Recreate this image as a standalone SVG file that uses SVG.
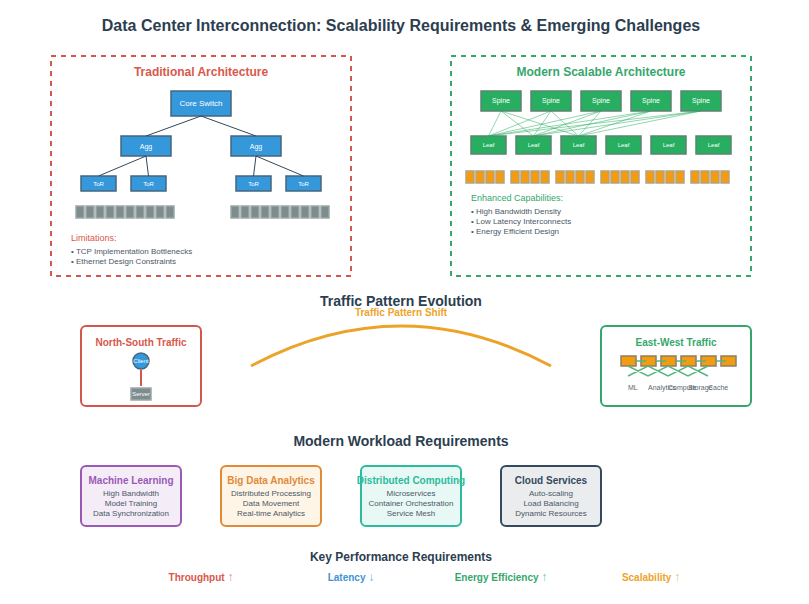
<svg xmlns="http://www.w3.org/2000/svg" width="809" height="604" viewBox="0 0 809 604">
<defs>
<style>
text{font-family:"Liberation Sans",Arial,sans-serif;text-anchor:middle}
.h1{font-size:16px;font-weight:bold;fill:#2c3e50}
.h2{font-size:14px;font-weight:bold;fill:#2c3e50}
.h3{font-size:12px;font-weight:bold}
.h4{font-size:10px;font-weight:bold}
.red{fill:#d9574b}.grn{fill:#35a76c}.org{fill:#eda32a}.blu{fill:#3f92d2}
.st{font-size:9px;text-anchor:start}
.bl{font-size:8px;text-anchor:start;fill:#4a5866}
.sw{fill:#3498db;stroke:#46667f;stroke-width:1.500}
.gs{fill:#27ae60;stroke:#5b8471;stroke-width:1.500}
.wt{fill:#fff}
.s8{font-size:8px}.s7{font-size:7px}.s6{font-size:6px}
.sv{fill:#7f8c8d;stroke:#9aa8ab;stroke-width:1.500}
.or{fill:#f39c12;stroke:#b5a27e;stroke-width:1.500}
.ew-node{fill:#f39c12;stroke:#8d7f66;stroke-width:1.500}
.tree{stroke:#34485a;stroke-width:1;fill:none}
.sl{stroke:#27ae60;stroke-width:1;opacity:.5;fill:none}
.ew{stroke:#58b47f;stroke-width:1.500;fill:none}
.card{stroke-width:2}
.cd{font-size:8px;fill:#4a5866}
.ct{font-size:10px;font-weight:bold}
.kp{font-size:10px;font-weight:bold}
.ar{font-size:12px;font-weight:normal;opacity:.75}
.lb{font-size:7px;text-anchor:start;fill:#5a6773}
</style>
</defs>
<rect width="809" height="604" fill="#fff"/>
<text class="h1" x="401" y="31">Data Center Interconnection: Scalability Requirements &amp; Emerging Challenges</text>

<g id="traditional-panel">
<rect x="51" y="56" width="300" height="220" fill="none" stroke="#d4574c" stroke-width="2" stroke-dasharray="5,5"/>
<text class="h3 red" x="201" y="76">Traditional Architecture</text>
<text class="st red" x="71" y="241">Limitations:</text>
<text class="bl" x="71" y="254">• TCP Implementation Bottlenecks</text>
<text class="bl" x="71" y="264">• Ethernet Design Constraints</text>
</g>
<g id="core"><rect class="sw" x="171" y="91" width="60" height="25"/><text class="wt s8" x="201" y="106">Core Switch</text></g>
<g id="agg1"><rect class="sw" x="121" y="136" width="50" height="20"/><text class="wt s7" x="146" y="149">Agg</text></g>
<g id="agg2"><rect class="sw" x="231" y="136" width="50" height="20"/><text class="wt s7" x="256" y="149">Agg</text></g>
<g id="tor1"><rect class="sw" x="81" y="176" width="35" height="15"/><text class="wt s6" x="98.500" y="186">ToR</text></g>
<g id="tor2"><rect class="sw" x="131" y="176" width="35" height="15"/><text class="wt s6" x="148.500" y="186">ToR</text></g>
<g id="tor3"><rect class="sw" x="236" y="176" width="35" height="15"/><text class="wt s6" x="253.500" y="186">ToR</text></g>
<g id="tor4"><rect class="sw" x="286" y="176" width="35" height="15"/><text class="wt s6" x="303.500" y="186">ToR</text></g>
<g id="servers-left">
<rect class="sv" x="76" y="206" width="8" height="12"/><rect class="sv" x="86" y="206" width="8" height="12"/><rect class="sv" x="96" y="206" width="8" height="12"/><rect class="sv" x="106" y="206" width="8" height="12"/><rect class="sv" x="116" y="206" width="8" height="12"/><rect class="sv" x="126" y="206" width="8" height="12"/><rect class="sv" x="136" y="206" width="8" height="12"/><rect class="sv" x="146" y="206" width="8" height="12"/><rect class="sv" x="156" y="206" width="8" height="12"/><rect class="sv" x="166" y="206" width="8" height="12"/>
</g>
<g id="servers-right">
<rect class="sv" x="231" y="206" width="8" height="12"/><rect class="sv" x="241" y="206" width="8" height="12"/><rect class="sv" x="251" y="206" width="8" height="12"/><rect class="sv" x="261" y="206" width="8" height="12"/><rect class="sv" x="271" y="206" width="8" height="12"/><rect class="sv" x="281" y="206" width="8" height="12"/><rect class="sv" x="291" y="206" width="8" height="12"/><rect class="sv" x="301" y="206" width="8" height="12"/><rect class="sv" x="311" y="206" width="8" height="12"/><rect class="sv" x="321" y="206" width="8" height="12"/>
</g>

<g id="modern-panel">
<rect x="451" y="56" width="300" height="220" fill="none" stroke="#35a76c" stroke-width="2" stroke-dasharray="5,5"/>
<text class="h3 grn" x="601" y="76">Modern Scalable Architecture</text>
<text class="st grn" x="471" y="201">Enhanced Capabilities:</text>
<text class="bl" x="471" y="214">• High Bandwidth Density</text>
<text class="bl" x="471" y="224">• Low Latency Interconnects</text>
<text class="bl" x="471" y="234">• Energy Efficient Design</text>
</g>
<g id="spine1"><rect class="gs" x="481" y="91" width="40" height="20"/><text class="wt s7" x="501" y="103">Spine</text></g>
<g id="spine2"><rect class="gs" x="531" y="91" width="40" height="20"/><text class="wt s7" x="551" y="103">Spine</text></g>
<g id="spine3"><rect class="gs" x="581" y="91" width="40" height="20"/><text class="wt s7" x="601" y="103">Spine</text></g>
<g id="spine4"><rect class="gs" x="631" y="91" width="40" height="20"/><text class="wt s7" x="651" y="103">Spine</text></g>
<g id="spine5"><rect class="gs" x="681" y="91" width="40" height="20"/><text class="wt s7" x="701" y="103">Spine</text></g>
<g id="leaf1"><rect class="gs" x="471" y="136" width="35" height="18"/><text class="wt s6" x="488.500" y="147">Leaf</text></g>
<g id="leaf2"><rect class="gs" x="516" y="136" width="35" height="18"/><text class="wt s6" x="533.500" y="147">Leaf</text></g>
<g id="leaf3"><rect class="gs" x="561" y="136" width="35" height="18"/><text class="wt s6" x="578.500" y="147">Leaf</text></g>
<g id="leaf4"><rect class="gs" x="606" y="136" width="35" height="18"/><text class="wt s6" x="623.500" y="147">Leaf</text></g>
<g id="leaf5"><rect class="gs" x="651" y="136" width="35" height="18"/><text class="wt s6" x="668.500" y="147">Leaf</text></g>
<g id="leaf6"><rect class="gs" x="696" y="136" width="35" height="18"/><text class="wt s6" x="713.500" y="147">Leaf</text></g>
<g id="racks">
<rect class="or" x="466" y="171" width="8" height="12"/><rect class="or" x="476" y="171" width="8" height="12"/><rect class="or" x="486" y="171" width="8" height="12"/><rect class="or" x="496" y="171" width="8" height="12"/>
<rect class="or" x="511" y="171" width="8" height="12"/><rect class="or" x="521" y="171" width="8" height="12"/><rect class="or" x="531" y="171" width="8" height="12"/><rect class="or" x="541" y="171" width="8" height="12"/>
<rect class="or" x="556" y="171" width="8" height="12"/><rect class="or" x="566" y="171" width="8" height="12"/><rect class="or" x="576" y="171" width="8" height="12"/><rect class="or" x="586" y="171" width="8" height="12"/>
<rect class="or" x="601" y="171" width="8" height="12"/><rect class="or" x="611" y="171" width="8" height="12"/><rect class="or" x="621" y="171" width="8" height="12"/><rect class="or" x="631" y="171" width="8" height="12"/>
<rect class="or" x="646" y="171" width="8" height="12"/><rect class="or" x="656" y="171" width="8" height="12"/><rect class="or" x="666" y="171" width="8" height="12"/><rect class="or" x="676" y="171" width="8" height="12"/>
<rect class="or" x="691" y="171" width="8" height="12"/><rect class="or" x="701" y="171" width="8" height="12"/><rect class="or" x="711" y="171" width="8" height="12"/><rect class="or" x="721" y="171" width="8" height="12"/>
</g>

<text class="h2" x="401" y="306">Traffic Pattern Evolution</text>
<text class="org" x="401" y="316" font-size="10" font-weight="bold">Traffic Pattern Shift</text>

<g id="north-south">
<rect x="81" y="326" width="120" height="80" rx="5" fill="#fff" stroke="#d4574c" stroke-width="2"/>
<text class="h4 red" x="141" y="346">North-South Traffic</text>
<circle class="sw" cx="141" cy="361" r="8"/><text class="wt s6" x="141" y="363">Client</text>
<rect class="sv" x="131" y="388" width="20" height="12"/><text class="wt s6" x="141" y="396">Server</text>
</g>

<g id="east-west">
<rect x="601" y="326" width="150" height="80" rx="5" fill="#fff" stroke="#35a76c" stroke-width="2"/>
<text class="h4 grn" x="676" y="346">East-West Traffic</text>
<rect class="ew-node" x="621" y="356" width="15" height="10"/><rect class="ew-node" x="641" y="356" width="15" height="10"/><rect class="ew-node" x="661" y="356" width="15" height="10"/><rect class="ew-node" x="681" y="356" width="15" height="10"/><rect class="ew-node" x="701" y="356" width="15" height="10"/><rect class="ew-node" x="721" y="356" width="15" height="10"/>
<text class="lb" x="628" y="390">ML</text>
<text class="lb" x="648" y="390">Analytics</text>
<text class="lb" x="668" y="390">Compute</text>
<text class="lb" x="688" y="390">Storage</text>
<text class="lb" x="708" y="390">Cache</text>
</g>

<text class="h2" x="401" y="446">Modern Workload Requirements</text>
<g id="ml"><rect class="card" x="81" y="466" width="100" height="60" rx="5" fill="#f4ecf7" stroke="#9b59b6"/>
<text class="ct" fill="#9b59b6" x="131" y="484">Machine Learning</text><text class="cd" x="131" y="496">High Bandwidth</text><text class="cd" x="131" y="506">Model Training</text><text class="cd" x="131" y="516">Data Synchronization</text></g>
<g id="bigdata"><rect class="card" x="221" y="466" width="100" height="60" rx="5" fill="#fef5e7" stroke="#e08a3a"/>
<text class="ct" fill="#e08a3a" x="271" y="484">Big Data Analytics</text><text class="cd" x="271" y="496">Distributed Processing</text><text class="cd" x="271" y="506">Data Movement</text><text class="cd" x="271" y="516">Real-time Analytics</text></g>
<g id="distributed"><rect class="card" x="361" y="466" width="100" height="60" rx="5" fill="#e8f8f5" stroke="#2dbb9d"/>
<text class="ct" fill="#2dbb9d" x="411" y="484">Distributed Computing</text><text class="cd" x="411" y="496">Microservices</text><text class="cd" x="411" y="506">Container Orchestration</text><text class="cd" x="411" y="516">Service Mesh</text></g>
<g id="cloud"><rect class="card" x="501" y="466" width="100" height="60" rx="5" fill="#eaecee" stroke="#34495e"/>
<text class="ct" fill="#34495e" x="551" y="484">Cloud Services</text><text class="cd" x="551" y="496">Auto-scaling</text><text class="cd" x="551" y="506">Load Balancing</text><text class="cd" x="551" y="516">Dynamic Resources</text></g>

<text class="h3" fill="#2c3e50" x="401" y="561">Key Performance Requirements</text>
<text class="kp red" x="201" y="581">Throughput <tspan class="ar">↑</tspan></text>
<text class="kp blu" x="351" y="581">Latency <tspan class="ar">↓</tspan></text>
<text class="kp grn" x="501" y="581">Energy Efficiency <tspan class="ar">↑</tspan></text>
<text class="kp org" x="651" y="581">Scalability <tspan class="ar">↑</tspan></text>

<g id="connectors">
<path class="tree" d="M201 116L146 136M201 116L256 136M146 156L98.500 176M146 156L148.500 176M256 156L253.500 176M256 156L303.500 176"/>
<path class="sl" d="M501 111L488.500 136M501 111L533.500 136M501 111L578.500 136M551 111L488.500 136M551 111L533.500 136M551 111L578.500 136M601 111L488.500 136M601 111L533.500 136M601 111L578.500 136M651 111L488.500 136M651 111L533.500 136M651 111L578.500 136M701 111L488.500 136M701 111L533.500 136M701 111L578.500 136"/>
<path d="M251 366Q401 286 551 366" fill="none" stroke="#eda32a" stroke-width="3"/>
<path d="M141 370V386" stroke="#d4574c" stroke-width="2" fill="none"/>
<path class="ew" d="M636 361H646M656 361H666M676 361H686M696 361H706M716 361H726"/>
<path class="ew" d="M628 366L648 376L668 366L688 376L708 366M628 376L648 366L668 376L688 366L708 376"/>
</g>
</svg>
